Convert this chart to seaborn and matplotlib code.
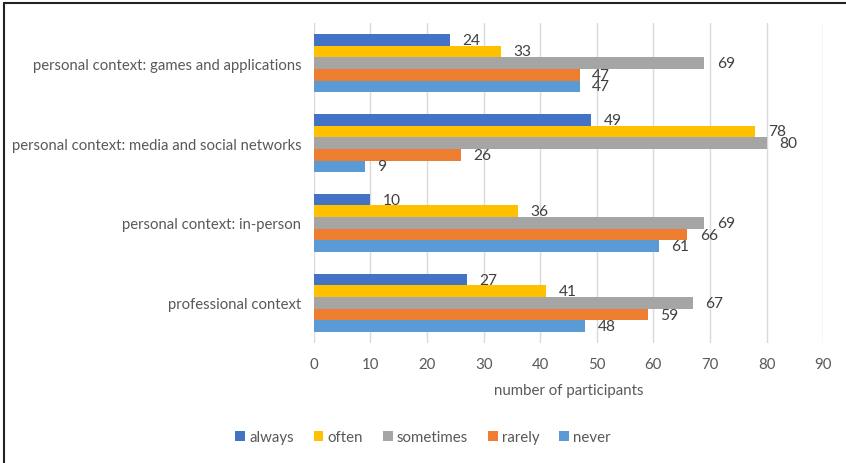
import seaborn as sns
import matplotlib.pyplot as plt
import pandas as pd
from matplotlib.lines import Line2D

# данные с картинки
contexts = ['personal context: games and applications',
            'personal context: media and social networks',
            'personal context: in-person',
            'professional context']
freqs = ['always', 'often', 'sometimes', 'rarely', 'never']
always = [24, 49, 10, 27]
often = [33, 78, 36, 41]
sometimes = [69, 80, 69, 67]
rarely = [47, 26, 66, 59]
never = [47, 9, 61, 48]
colors = ['#4472C4', '#FFC000', '#A5A5A5', '#ED7D31', '#5B9BD5']

df = pd.DataFrame({'context': contexts, 'always': always, 'often': often,
                   'sometimes': sometimes, 'rarely': rarely, 'never': never})
df = df.melt(id_vars='context', var_name='freq', value_name='value')

sns.set_style('white')
plt.rcParams['font.family'] = ['Lato', 'DejaVu Sans']
txt = '#595959'

fig = plt.figure(figsize=(8.46, 4.64), dpi=100)
ax = fig.add_axes([0.371, 0.259, 0.602, 0.689])

sns.barplot(data=df, x='value', y='context', hue='freq', order=contexts,
            hue_order=freqs, palette=colors, orient='h', width=0.73,
            saturation=1, linewidth=0, ax=ax)

for c in ax.containers:
    ax.bar_label(c, padding=9, fontsize=11.2, color='#404040')

ax.set_xlim(0, 90)
ax.set_xticks(range(0, 91, 10))
ax.grid(axis='x', color='#D9D9D9', linewidth=1)
ax.grid(axis='y', visible=False)
ax.set_axisbelow(True)
for s in ax.spines.values():
    s.set_visible(False)
ax.tick_params(axis='x', length=0, pad=10, labelsize=10.8, labelcolor=txt)
ax.tick_params(axis='y', length=0, pad=9, labelsize=10.7, labelcolor=txt)
ax.set_ylabel('')
ax.set_xlabel('number of participants', fontsize=10.8, color=txt, labelpad=9)

# легенда снизу
h, l = ax.get_legend_handles_labels()
ax.get_legend().remove()
fig.legend(h, l, loc='center', bbox_to_anchor=(0.5, 1 - 438 / 464), ncol=5,
           frameon=False, handlelength=0.65, handleheight=0.65,
           handletextpad=0.3, columnspacing=1.3, fontsize=10.8, labelcolor=txt)

# рамка сверху и слева
fig.add_artist(Line2D([4 / 846, 1], [1 - 4 / 464, 1 - 4 / 464],
                      color='#222222', linewidth=1.5, transform=fig.transFigure))
fig.add_artist(Line2D([4 / 846, 4 / 846], [0, 1 - 4 / 464],
                      color='#222222', linewidth=1.5, transform=fig.transFigure))

fig.savefig('out.png', dpi=100)
